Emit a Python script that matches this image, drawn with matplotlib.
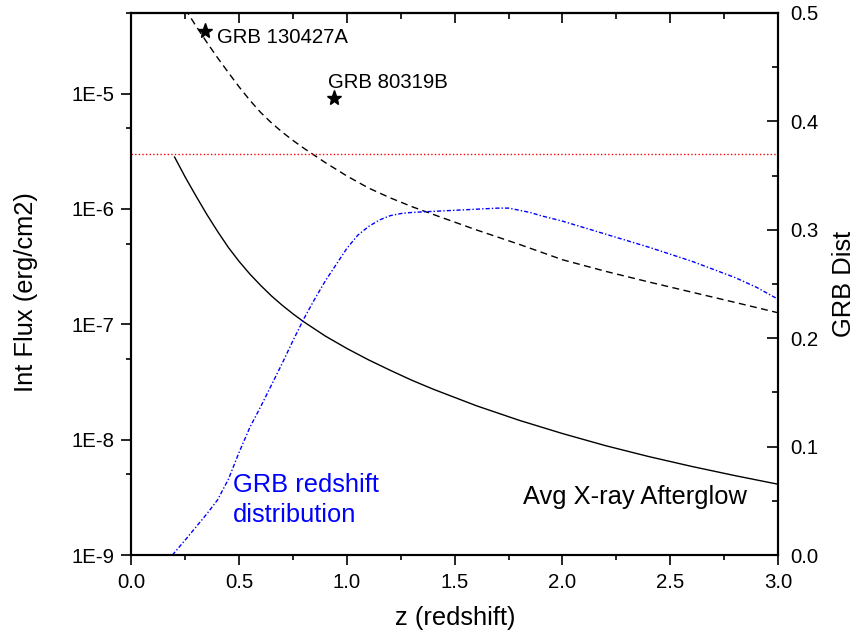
import matplotlib
matplotlib.use('Agg')
import matplotlib.pyplot as plt
from matplotlib.ticker import FixedLocator, MultipleLocator, NullFormatter

plt.rcParams['font.family'] = ['Liberation Sans', 'DejaVu Sans']

# ---- data ----
z_flux = [0.2, 0.25, 0.3, 0.35, 0.4, 0.45, 0.5, 0.55, 0.6, 0.65, 0.7, 0.75,
          0.8, 0.9, 1.0, 1.1, 1.2, 1.3, 1.4, 1.6, 1.8, 2.0, 2.2, 2.4, 2.6,
          2.8, 3.0]
flux_afterglow = [2.82e-6, 1.88e-6, 1.29e-6, 8.95e-7, 6.37e-7, 4.63e-7,
                  3.50e-7, 2.72e-7, 2.17e-7, 1.76e-7, 1.46e-7, 1.23e-7,
                  1.05e-7, 7.9e-8, 6.17e-8, 4.92e-8, 4.0e-8, 3.28e-8,
                  2.74e-8, 1.97e-8, 1.47e-8, 1.13e-8, 8.87e-9, 7.14e-9,
                  5.86e-9, 4.88e-9, 4.11e-9]
flux_bright = [7.76e-5, 5.40e-5, 3.84e-5, 2.78e-5, 2.04e-5, 1.52e-5,
               1.14e-5, 8.73e-6, 6.85e-6, 5.57e-6, 4.63e-6, 3.92e-6,
               3.36e-6, 2.52e-6, 1.93e-6, 1.52e-6, 1.25e-6, 1.05e-6,
               8.97e-7, 6.59e-7, 4.93e-7, 3.63e-7, 2.88e-7, 2.33e-7,
               1.90e-7, 1.55e-7, 1.26e-7]
z_dist = [0.19, 0.25, 0.3, 0.35, 0.4, 0.45, 0.5, 0.55, 0.6, 0.65, 0.7, 0.75,
          0.8, 0.85, 0.9, 0.95, 1.0, 1.05, 1.1, 1.15, 1.2, 1.25, 1.3, 1.4,
          1.5, 1.6, 1.7, 1.75, 1.8, 1.85, 1.9, 2.0, 2.2, 2.4, 2.6, 2.8, 2.9,
          3.0]
grb_dist = [0.0, 0.014, 0.026, 0.038, 0.051, 0.070, 0.095, 0.118, 0.137,
            0.157, 0.177, 0.198, 0.218, 0.236, 0.253, 0.268, 0.283, 0.295,
            0.303, 0.309, 0.313, 0.315, 0.316, 0.317, 0.318, 0.319, 0.320,
            0.320, 0.318, 0.316, 0.313, 0.308, 0.296, 0.284, 0.271, 0.256,
            0.247, 0.236]
threshold = 3e-6
grb_names = ['GRB 130427A', 'GRB 80319B']
grb_z = [0.34, 0.94]
grb_flux = [3.46e-5, 9.1e-6]

xticks = [0.0, 0.5, 1.0, 1.5, 2.0, 2.5, 3.0]
xtick_labels = ['0.0', '0.5', '1.0', '1.5', '2.0', '2.5', '3.0']
yticks = [1e-9, 1e-8, 1e-7, 1e-6, 1e-5]
ytick_labels = ['1E-9', '1E-8', '1E-7', '1E-6', '1E-5']
yminor = [5e-9, 5e-8, 5e-7, 5e-6, 5e-5]
rticks = [0.0, 0.1, 0.2, 0.3, 0.4, 0.5]
rtick_labels = ['0.0', '0.1', '0.2', '0.3', '0.4', '0.5']

# ---- figure ----
fig = plt.figure(figsize=(8.57, 6.37), dpi=100)
ax = fig.add_axes([0.1534, 0.1287, 0.7544, 0.8509])
ax.set_yscale('log')
ax.set_xlim(0, 3)
ax.set_ylim(1e-9, 5e-5)

ax.plot(z_flux, flux_afterglow, color='black', lw=1.0)
ax.plot(z_flux, flux_bright, color='black', lw=1.0, ls=(0, (5, 3.2)))
ax.axhline(threshold, color='red', lw=1.0, ls=(0, (1, 1.6)))
ax.plot(grb_z, grb_flux, ls='none', marker='*', ms=11, color='black')

ax.annotate(grb_names[0], (grb_z[0], grb_flux[0]), xytext=(8.6, -8.4),
            textcoords='offset points', fontsize=14.7, ha='left', va='baseline')
ax.annotate(grb_names[1], (grb_z[1], grb_flux[1]), xytext=(-4.1, 7.2),
            textcoords='offset points', fontsize=14.7, ha='left', va='baseline')
ax.text(1.818, 2.76e-9, 'Avg X-ray Afterglow', fontsize=18.4,
        ha='left', va='baseline')

for s in ax.spines.values():
    s.set_linewidth(1.5)

ax.set_xticks(xticks)
ax.set_xticklabels(xtick_labels)
ax.xaxis.set_minor_locator(MultipleLocator(0.25))
ax.yaxis.set_major_locator(FixedLocator(yticks))
ax.set_yticklabels(ytick_labels)
ax.yaxis.set_minor_locator(FixedLocator(yminor))
ax.yaxis.set_minor_formatter(NullFormatter())
ax.tick_params(which='major', direction='out', length=7, width=1.2,
               labelsize=14.7, pad=5)
ax.tick_params(which='minor', direction='out', length=3.5, width=1.2)
ax.tick_params(axis='x', which='major', pad=6)

ax.set_xlabel('z (redshift)', fontsize=18.4)
ax.xaxis.set_label_coords(0.5012, -0.094)
ax.set_ylabel('Int Flux (erg/cm2)', fontsize=18.4)
ax.yaxis.set_label_coords(-0.1439, 0.4843)

# top axis ticks (inward, no labels)
top = ax.secondary_xaxis('top')
top.set_xticks(xticks)
top.set_xticklabels([])
top.xaxis.set_minor_locator(MultipleLocator(0.25))
top.tick_params(which='major', direction='in', length=7, width=1.2)
top.tick_params(which='minor', direction='in', length=4, width=1.2)
top.spines['top'].set_linewidth(1.5)

# right axis: GRB distribution
ax2 = ax.twinx()
ax2.set_ylim(0, 0.5)
ax2.plot(z_dist, grb_dist, color='blue', lw=1.0, ls=(0, (3, 1.5, 1, 1.5)))
ax2.set_yticks(rticks)
ax2.set_yticklabels(rtick_labels)
ax2.yaxis.set_minor_locator(MultipleLocator(0.05))
ax2.tick_params(which='major', direction='in', length=8, width=1.2,
                labelsize=14.7, pad=8.5)
ax2.tick_params(which='minor', direction='in', length=4, width=1.2)
ax2.set_ylabel('GRB Dist', fontsize=18.4, labelpad=10)
for s in ax2.spines.values():
    s.set_linewidth(1.5)

ax2.text(0.470, 0.0584, 'GRB redshift', color='blue', fontsize=18.4,
         ha='left', va='baseline')
ax2.text(0.470, 0.0307, 'distribution', color='blue', fontsize=18.4,
         ha='left', va='baseline')

fig.savefig('out.png', dpi=100)
